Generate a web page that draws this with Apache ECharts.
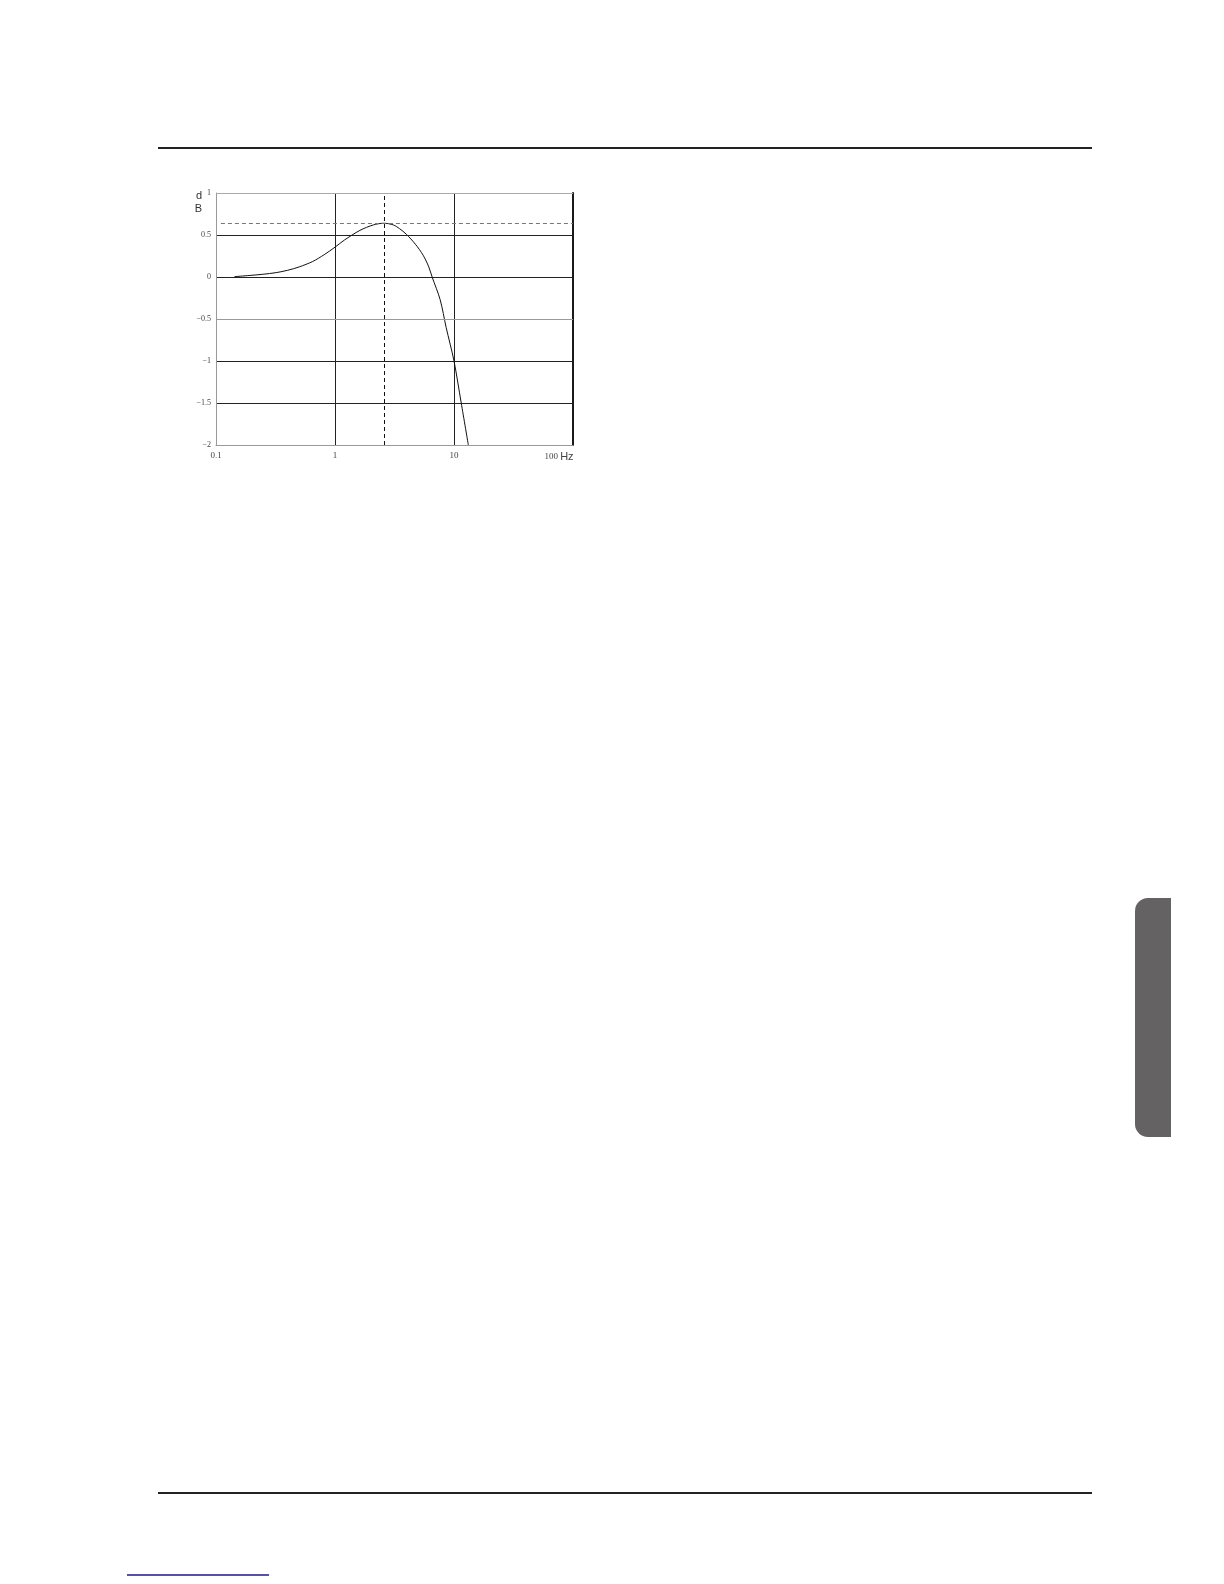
<!DOCTYPE html>
<html>
<head>
<meta charset="utf-8">
<script src="https://cdn.jsdelivr.net/npm/echarts@6/dist/echarts.min.js"></script>
<style>
html,body{margin:0;padding:0;background:#fff;}
#c{width:1224px;height:1584px;}
</style>
</head>
<body>
<div id="c"></div>
<script>
// Frequency (Hz) and response (dB)
const freqHz = [0.143, 0.19, 0.247, 0.32, 0.40, 0.50, 0.65, 0.81, 1.0, 1.2, 1.62, 2.1, 2.57, 3.09, 3.49, 3.97, 4.74, 5.5, 6.14, 6.55, 7.65, 8.59, 10, 11.5, 13.2];
const gainDb = [0.004, 0.018, 0.032, 0.052, 0.08, 0.12, 0.185, 0.265, 0.355, 0.44, 0.555, 0.62, 0.64, 0.62, 0.575, 0.51, 0.39, 0.26, 0.12, 0.0, -0.27, -0.60, -1.0, -1.5, -2.0];
const peakDb = 0.64;
const peakHz = 2.57;
const peakLineStartHz = 0.11;
const xTicks = [0.1, 1, 10, 100];
const yTicks = [-2, -1.5, -1, -0.5, 0, 0.5, 1];

const chart = echarts.init(document.getElementById('c'), null, {renderer: 'canvas'});
const serif = '"Liberation Serif", "DejaVu Serif", serif';
const sans = '"Liberation Sans", Arial, sans-serif';

chart.setOption({
  animation: false,
  backgroundColor: '#ffffff',
  grid: {left: 216, top: 193, width: 357, height: 252, containLabel: false},
  xAxis: {
    type: 'log', logBase: 10, min: xTicks[0], max: xTicks[xTicks.length - 1],
    axisLine: {show: true, onZero: false, lineStyle: {color: '#999', width: 1}},
    axisTick: {show: false},
    splitLine: {show: true, lineStyle: {color: '#222', width: 1}},
    axisLabel: {
      margin: 6, fontFamily: serif, fontSize: 9, color: '#444',
      formatter: function (v) {
        if (Math.abs(v - 100) < 1e-6) return '{n|100} {hz|Hz}{p|}';
        return String(v);
      },
      rich: {
        n: {fontFamily: serif, fontSize: 9, color: '#444'},
        hz: {fontFamily: sans, fontSize: 11, color: '#444'},
        p: {width: 28}
      }
    }
  },
  yAxis: [{
    type: 'value', min: yTicks[0], max: yTicks[yTicks.length - 1], interval: 0.5,
    axisLine: {show: true, onZero: false, lineStyle: {color: '#999', width: 1}},
    axisTick: {show: false},
    splitLine: {show: true, lineStyle: {color: '#222', width: 1}},
    axisLabel: {
      margin: 5, fontFamily: serif, fontSize: 8, color: '#444',
      formatter: function (v) { return String(v).replace('-', '\u2212'); }
    },
    name: '{d|d}\n{b|B}',
    nameLocation: 'end',
    nameGap: 0,
    nameTextStyle: {
      align: 'right', verticalAlign: 'top', padding: [-4, 14, 0, 0],
      rich: {
        d: {fontFamily: sans, fontSize: 11, color: '#333', lineHeight: 13},
        b: {fontFamily: sans, fontSize: 11, color: '#333', lineHeight: 13}
      }
    }
  }, {
    type: 'value', min: yTicks[0], max: yTicks[yTicks.length - 1], interval: 0.5,
    position: 'right',
    axisLine: {show: true, onZero: false, lineStyle: {color: '#1a1a1a', width: 2}},
    axisTick: {show: false}, axisLabel: {show: false}, splitLine: {show: false}
  }],
  series: [{
    type: 'line',
    data: freqHz.map((f, i) => [f, gainDb[i]]),
    smooth: 0.3,
    showSymbol: false,
    lineStyle: {color: '#111', width: 1},
    clip: true,
    markLine: {
      silent: true, symbol: ['none', 'none'], label: {show: false},
      data: [
        [{coord: [peakLineStartHz, peakDb], lineStyle: {color: '#777', type: [4, 3], width: 1}},
         {coord: [xTicks[xTicks.length - 1], peakDb]}],
        {xAxis: peakHz, lineStyle: {color: '#111', type: [4, 3], width: 1}},
        [{coord: [xTicks[0], -0.5], lineStyle: {color: '#9a9a9a', type: 'solid', width: 1}},
         {coord: [xTicks[xTicks.length - 1], -0.5]}],
        [{coord: [xTicks[0], 1], lineStyle: {color: '#aaa', type: 'solid', width: 1}},
         {coord: [xTicks[xTicks.length - 1], 1]}]
      ]
    }
  }],
  graphic: [
    {type: 'line', shape: {x1: 158, y1: 148, x2: 1092, y2: 148}, style: {stroke: '#222', lineWidth: 2}},
    {type: 'line', shape: {x1: 158, y1: 1493, x2: 1092, y2: 1493}, style: {stroke: '#222', lineWidth: 2}},
    {type: 'line', shape: {x1: 127, y1: 1575, x2: 269, y2: 1575}, style: {stroke: '#1a1a8c', lineWidth: 1.5}},
    {type: 'rect', shape: {x: 1135, y: 898, width: 36, height: 239, r: [13, 0, 0, 13]}, style: {fill: '#646263'}}
  ]
});
</script>
</body>
</html>
